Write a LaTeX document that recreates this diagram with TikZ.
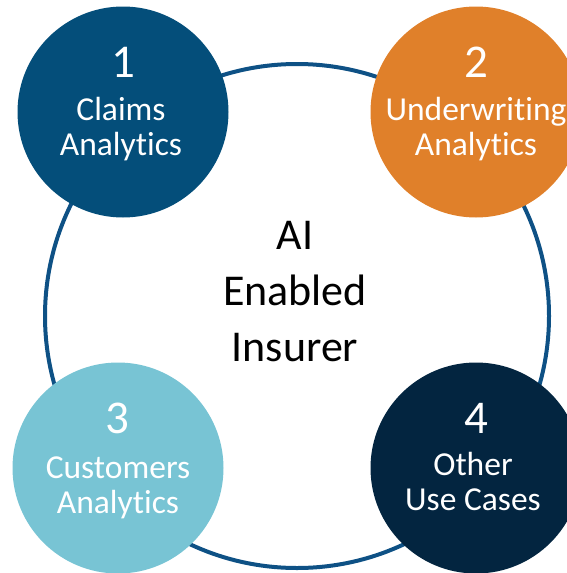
\documentclass[tikz,border=0pt]{standalone}
\usepackage{fontspec}
\setmainfont{Carlito}[Ligatures=NoCommon]
\definecolor{claimsblue}{HTML}{044E7A}
\definecolor{underorange}{HTML}{E0802A}
\definecolor{custblue}{HTML}{78C4D4}
\definecolor{othernavy}{HTML}{032540}
\definecolor{ringblue}{HTML}{0E5185}
\begin{document}
\begin{tikzpicture}[x=1pt,y=-1pt,
   bubble/.style={circle,inner sep=0pt,minimum size=211pt},
   numtext/.style={text=white,anchor=base,font=\fontsize{47}{47}\selectfont},
   captext/.style={text=white,anchor=base,align=center,font=\fontsize{33.5}{35}\selectfont}]
   \useasboundingbox (0,0) rectangle (567,573);
   \clip (0,0) rectangle (567,573);
   \draw[line width=4pt,ringblue] (297,316) circle (252pt);
   \node[bubble,fill=claimsblue]  (claims) at (123,112) {};
   \node[bubble,fill=underorange] (under)  at (476,112) {};
   \node[bubble,fill=custblue]    (cust)   at (118,468) {};
   \node[bubble,fill=othernavy]   (other)  at (476,468) {};
   \node[numtext] (claimsnum) at (123,77)  {1};
   \node[captext] (claimscap) at (121,155) {Claims\\Analytics};
   \node[numtext] (undernum)  at (476,77)  {2};
   \node[captext] (undercap)  at (476,155) {Underwriting\\Analytics};
   \node[numtext] (custnum)   at (117,433) {3};
   \node[captext] (custcap)   at (118,513) {Customers\\Analytics};
   \node[numtext] (othernum)  at (476,433) {4};
   \node[captext] (othercap)  at (473,510) {Other\\Use Cases};
   \node[anchor=base,align=center,font=\fontsize{44}{56}\selectfont] (insurer) at (295,361) {AI\\Enabled\\Insurer};
\end{tikzpicture}
\end{document}
